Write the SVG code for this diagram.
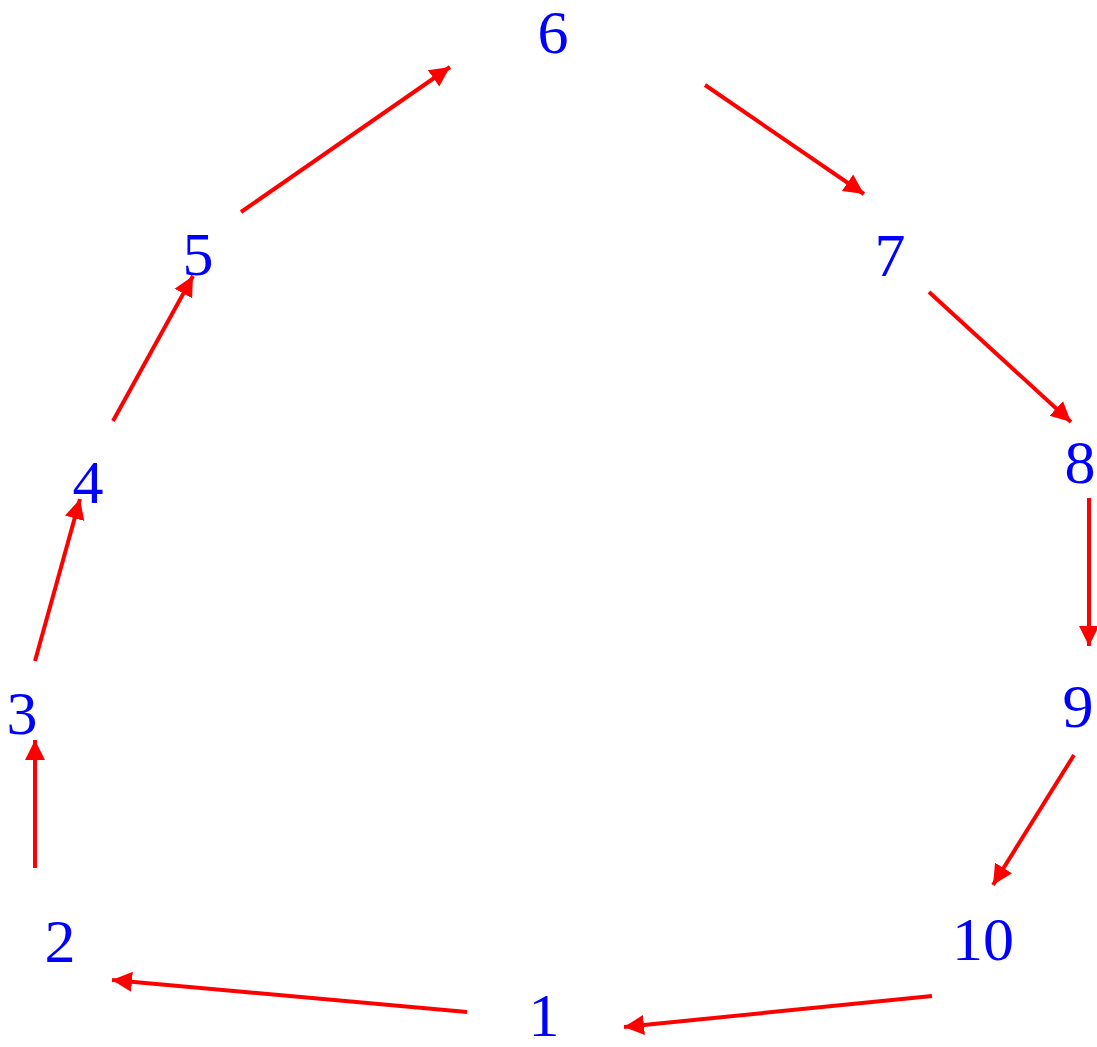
<svg xmlns="http://www.w3.org/2000/svg" width="1097" height="1047" viewBox="0 0 1097 1047">
<style>
.lbl{font-family:"Liberation Serif","Times New Roman",serif;font-size:62px;fill:#0000ff;text-anchor:middle}
.e{stroke:#ff0000;stroke-width:4;fill:none;marker-end:url(#ah)}
</style>
<defs>
<marker id="ah" markerUnits="userSpaceOnUse" markerWidth="21" markerHeight="21" refX="20" refY="10.5" orient="auto" viewBox="0 0 21 21">
<path d="M0,0.5 L20,10.5 L0,20.5 z" fill="#ff0000"/>
</marker>
</defs>
<rect width="1097" height="1047" fill="#ffffff"/>
<g id="edges">
<line class="e" x1="467" y1="1012" x2="112" y2="980"/>
<line class="e" x1="932" y1="996" x2="624" y2="1027"/>
<line class="e" x1="35" y1="868" x2="35" y2="740"/>
<line class="e" x1="35" y1="661" x2="80" y2="499"/>
<line class="e" x1="113" y1="421" x2="193" y2="276"/>
<line class="e" x1="241" y1="212" x2="450" y2="67"/>
<line class="e" x1="705" y1="85" x2="864" y2="194"/>
<line class="e" x1="929" y1="292" x2="1071" y2="422"/>
<line class="e" x1="1089" y1="498" x2="1089" y2="646"/>
<line class="e" x1="1074" y1="755" x2="993" y2="885"/>
</g>
<g id="n1"><text class="lbl" x="544" y="1036">1</text></g>
<g id="n2"><text class="lbl" x="60" y="962">2</text></g>
<g id="n3"><text class="lbl" x="22" y="734">3</text></g>
<g id="n4"><text class="lbl" x="88" y="503">4</text></g>
<g id="n5"><text class="lbl" x="198" y="275">5</text></g>
<g id="n6"><text class="lbl" x="553" y="53">6</text></g>
<g id="n7"><text class="lbl" x="890" y="276">7</text></g>
<g id="n8"><text class="lbl" x="1080" y="483">8</text></g>
<g id="n9"><text class="lbl" x="1078" y="727">9</text></g>
<g id="n10"><text class="lbl" x="983" y="960">10</text></g>
</svg>
